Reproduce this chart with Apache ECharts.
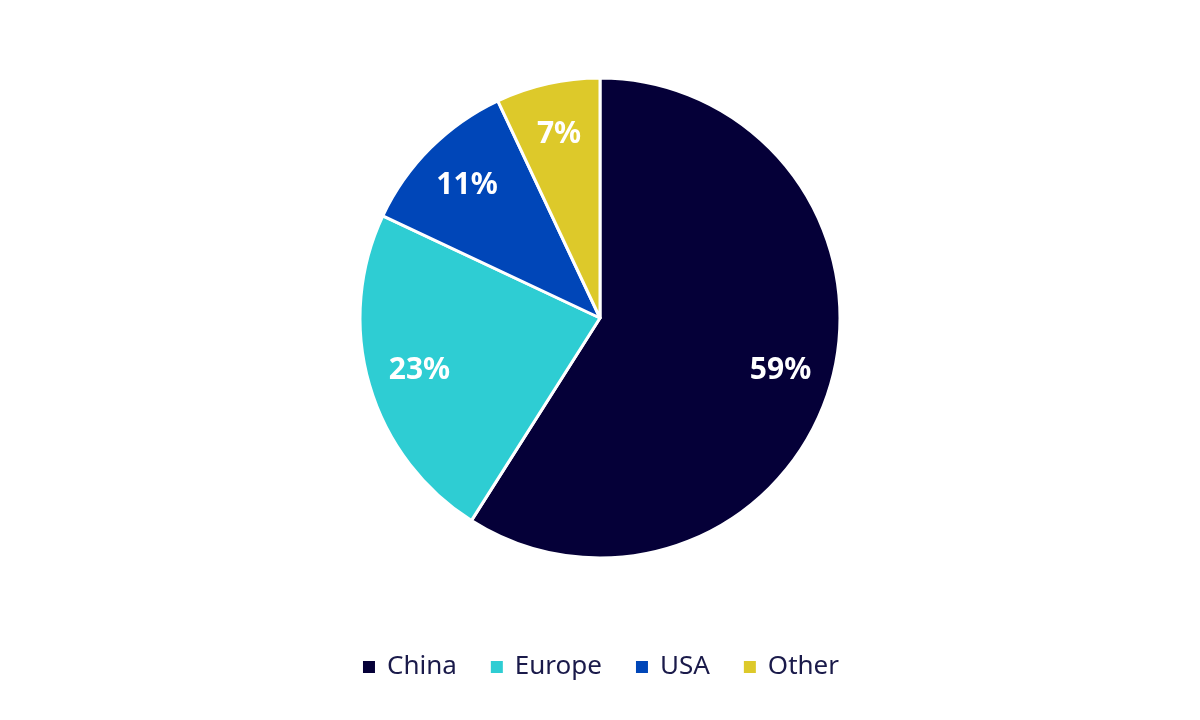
<!DOCTYPE html>
<html>
<head>
<meta charset="utf-8">
<script src="https://cdn.jsdelivr.net/npm/echarts@6/dist/echarts.min.js"></script>
<style>html,body{margin:0;padding:0;background:#fff}#c{width:1200px;height:720px}</style>
</head>
<body>
<div id="c"></div>
<script>
const categories = ['China', 'Europe', 'USA', 'Other'];
const values = [59, 23, 11, 7];
const colors = ['#050038', '#2ECDD3', '#0046B8', '#DDC92A'];

const data = categories.map((n, i) => ({ name: n, value: values[i], itemStyle: { color: colors[i] } }));
const chart = echarts.init(document.getElementById('c'));
chart.setOption({
  animation: false,
  legend: {
    bottom: 35,
    left: 'center',
    icon: 'rect',
    itemWidth: 14,
    itemHeight: 14,
    itemGap: 32,
    textStyle: { fontFamily: 'Noto Sans', fontSize: 26, color: '#1a1a4a', padding: [0, 0, 0, 6] },
    data: categories
  },
  series: [
    {
      type: 'pie',
      center: [600, 318],
      radius: [0, 240],
      startAngle: 90,
      clockwise: true,
      label: { show: false },
      labelLine: { show: false },
      itemStyle: { borderColor: '#fff', borderWidth: 3 },
      emphasis: { disabled: true },
      data: data
    },
    {
      type: 'pie',
      center: [600, 318],
      radius: [130, 240],
      startAngle: 90,
      clockwise: true,
      silent: true,
      legendHoverLink: false,
      itemStyle: { color: 'rgba(0,0,0,0)', borderWidth: 0 },
      label: {
        show: true,
        position: 'inside',
        formatter: '{c}%',
        color: '#fff',
        fontFamily: 'Noto Sans',
        fontWeight: 'bold',
        fontSize: 30
      },
      labelLine: { show: false },
      emphasis: { disabled: true },
      data: categories.map((n, i) => ({ name: n + ' ', value: values[i] }))
    }
  ]
});
</script>
</body>
</html>
